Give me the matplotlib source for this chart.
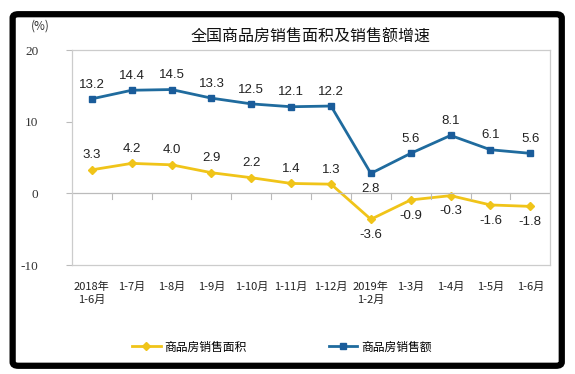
import matplotlib.pyplot as plt
import numpy as np
from matplotlib.patches import FancyBboxPatch

plt.rcParams['font.family'] = ['Noto Sans CJK SC', 'DejaVu Sans']

months = ["2018年\n1-6月", "1-7月", "1-8月", "1-9月", "1-10月", "1-11月", "1-12月",
          "2019年\n1-2月", "1-3月", "1-4月", "1-5月", "1-6月"]
area = [3.3, 4.2, 4.0, 2.9, 2.2, 1.4, 1.3, -3.6, -0.9, -0.3, -1.6, -1.8]
sales = [13.2, 14.4, 14.5, 13.3, 12.5, 12.1, 12.2, 2.8, 5.6, 8.1, 6.1, 5.6]

yellow = "#f0c419"
blue = "#1f6b9e"
blue_mk = "#1a5c9a"

fig = plt.figure(figsize=(5.75, 3.74), dpi=100)
ax = fig.add_axes([0.125, 0.291, 0.832, 0.575])

x = np.arange(len(months))
ax.plot(x, area, color=yellow, lw=2, marker="D", ms=4.5, mfc=yellow, mec=yellow,
        label="商品房销售面积")
ax.plot(x, sales, color=blue, lw=2, marker="s", ms=5, mfc=blue_mk, mec=blue_mk,
        label="商品房销售额")

lab_font = dict(family="Liberation Sans", fontsize=9.5, color="#222222", ha="center")
for i, v in enumerate(sales):
    if i == 7:
        ax.annotate(f"{v:.1f}", (i, v), xytext=(0, -7), textcoords="offset points", va="top", **lab_font)
    else:
        ax.annotate(f"{v:.1f}", (i, v), xytext=(0, 6), textcoords="offset points", va="bottom", **lab_font)
for i, v in enumerate(area):
    if v < 0:
        ax.annotate(f"{v:.1f}", (i, v), xytext=(0, -7), textcoords="offset points", va="top", **lab_font)
    else:
        ax.annotate(f"{v:.1f}", (i, v), xytext=(0, 6), textcoords="offset points", va="bottom", **lab_font)

ax.set_xlim(-0.5, len(months) - 0.5)
ax.set_ylim(-10, 20)
ax.set_yticks([-10, 0, 10, 20])
ax.set_yticklabels(["-10", "0", "10", "20"], family="Liberation Serif", fontsize=9.5, color="#333333")
ax.tick_params(axis="y", length=4, color="#bbbbbb", pad=20)

# category labels under the plot, ticks on the zero line
ax.set_xticks(x)
ax.set_xticklabels([])
ax.tick_params(axis="x", length=0)
for i, m in enumerate(months):
    ax.text(i, -12.3, m, ha="center", va="top", fontsize=8, color="#222222", linespacing=1.4)
for b in np.arange(0.5, len(months) - 1, 1.0):
    ax.plot([b, b], [0, -0.7], color="#bbbbbb", lw=0.8, clip_on=False)
ax.axhline(0, color="#bbbbbb", lw=0.9)

for s in ax.spines.values():
    s.set_color("#cccccc")
    s.set_linewidth(0.9)

fig.text(0.07, 0.93, "(%)", fontsize=8.5, color="#333333", ha="center", va="center")
fig.text(0.54, 0.9, "全国商品房销售面积及销售额增速", fontsize=11.5, ha="center", va="center", color="#111111")

fig.legend(loc="center", bbox_to_anchor=(0.49, 0.072), ncol=2, frameon=False, fontsize=8.5,
           columnspacing=7, handlelength=2.4, handletextpad=0.3)

border = FancyBboxPatch((0.022, 0.022), 0.955, 0.94, boxstyle="round,pad=0,rounding_size=0.01",
                        transform=fig.transFigure, fill=False, lw=4.5, ec="black")
fig.patches.append(border)

fig.savefig("out.png", dpi=100)
